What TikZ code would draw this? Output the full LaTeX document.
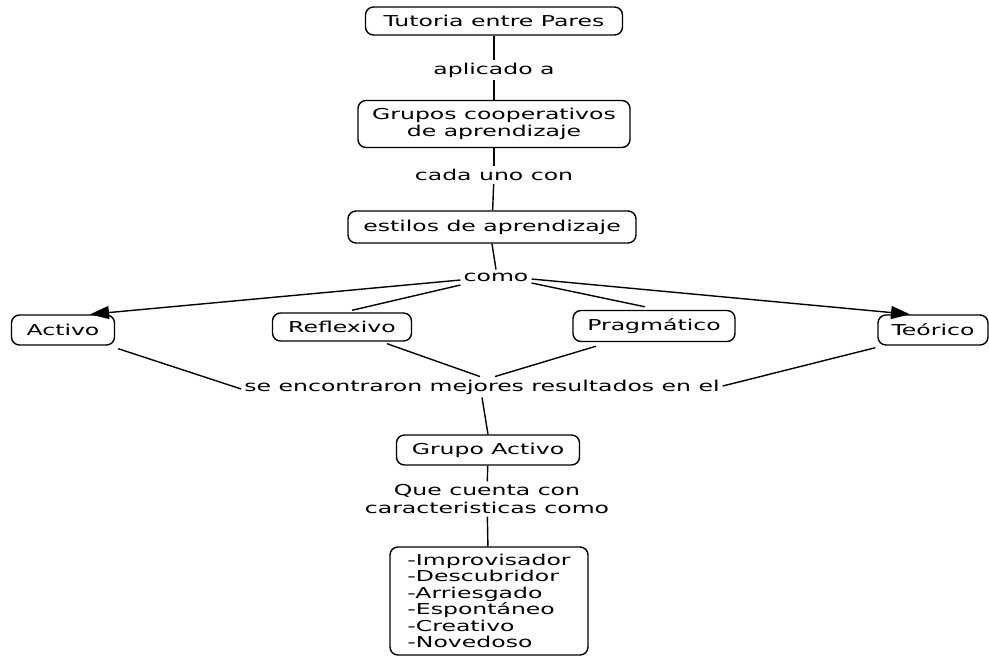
\documentclass[tikz,border=0pt]{standalone}
\usepackage{fontspec}
\setmainfont[FakeStretch=1.57]{DejaVu Sans}
\usetikzlibrary{arrows.meta}
\begin{document}
\begin{tikzpicture}[x=1pt,y=-1pt,
 concept/.style={draw, rounded corners=8pt, line width=1.4pt, align=center, font=\fontsize{15}{16.5}\selectfont, inner sep=0pt},
 lbl/.style={align=center, font=\fontsize{15}{17.5}\selectfont, inner sep=3pt},
 conn/.style={line width=1.4pt},
 arr/.style={conn, -{Triangle[length=19pt,width=13pt]}}]
\useasboundingbox (0,0) rectangle (989,657);
\node[concept, minimum width=257pt, minimum height=28pt] (tut) at (494,21) {Tutoria entre Pares};
\node[lbl] (apl) at (494,70) {aplicado a};
\node[concept, minimum width=272pt, minimum height=47pt] (gru) at (494,124) {Grupos cooperativos\\ de aprendizaje};
\node[lbl] (cad) at (494,175) {cada uno con};
\node[concept, minimum width=288pt, minimum height=32pt] (est) at (492,227) {estilos de aprendizaje};
\node[lbl] (com) at (496,277) {como};
\node[concept, minimum width=103pt, minimum height=30pt] (act) at (63,330) {Activo};
\node[concept, minimum width=139pt, minimum height=28pt] (ref) at (342,327) {Reflexivo};
\node[concept, minimum width=162pt, minimum height=31pt] (pra) at (654,326) {Pragmático};
\node[concept, minimum width=110pt, minimum height=30pt] (teo) at (933,330) {Teórico};
\node[lbl] (se) at (482,387) {se encontraron mejores resultados en el};
\node[concept, minimum width=183pt, minimum height=30pt] (ga) at (488,450) {Grupo Activo};
\node[lbl] (que) at (487,499) {Que cuenta con\\caracteristicas como};
\node[concept, minimum width=198pt, minimum height=108pt, align=left] (lis) at (489,601) {-Improvisador\\-Descubridor\\-Arriesgado\\-Espontáneo\\-Creativo\\-Novedoso};
\draw[conn] (tut) -- (apl);
\draw[conn] (apl) -- (gru);
\draw[conn] (gru) -- (cad);
\draw[conn] (cad) -- (est);
\draw[conn] (est.south) -- (com.north);
\draw[arr] ([yshift=-3pt]com.west) -- ([xshift=27pt]act.north);
\draw[conn] ([yshift=-8pt]com.west) -- ([xshift=10pt,yshift=2pt]ref.north);
\draw[conn] ([yshift=-6pt]com.east) -- ([xshift=-9pt,yshift=3pt]pra.north);
\draw[arr] ([yshift=-2pt]com.east) -- ([xshift=-23pt]teo.north);
\draw[conn] ([xshift=3pt,yshift=-3pt]act.south east) -- ([yshift=-2pt]se.west);
\draw[conn] ([xshift=45pt,yshift=-2pt]ref.south) -- ([xshift=-2pt]se.north);
\draw[conn] ([xshift=-58pt,yshift=-4pt]pra.south) -- ([xshift=13pt]se.north);
\draw[conn] ([xshift=-2pt,yshift=-2pt]teo.south west) -- ([yshift=1pt]se.east);
\draw[conn] (se.south) -- (ga.north);
\draw[conn] (ga) -- (que);
\draw[conn] (que) -- (lis);
\end{tikzpicture}
\end{document}
